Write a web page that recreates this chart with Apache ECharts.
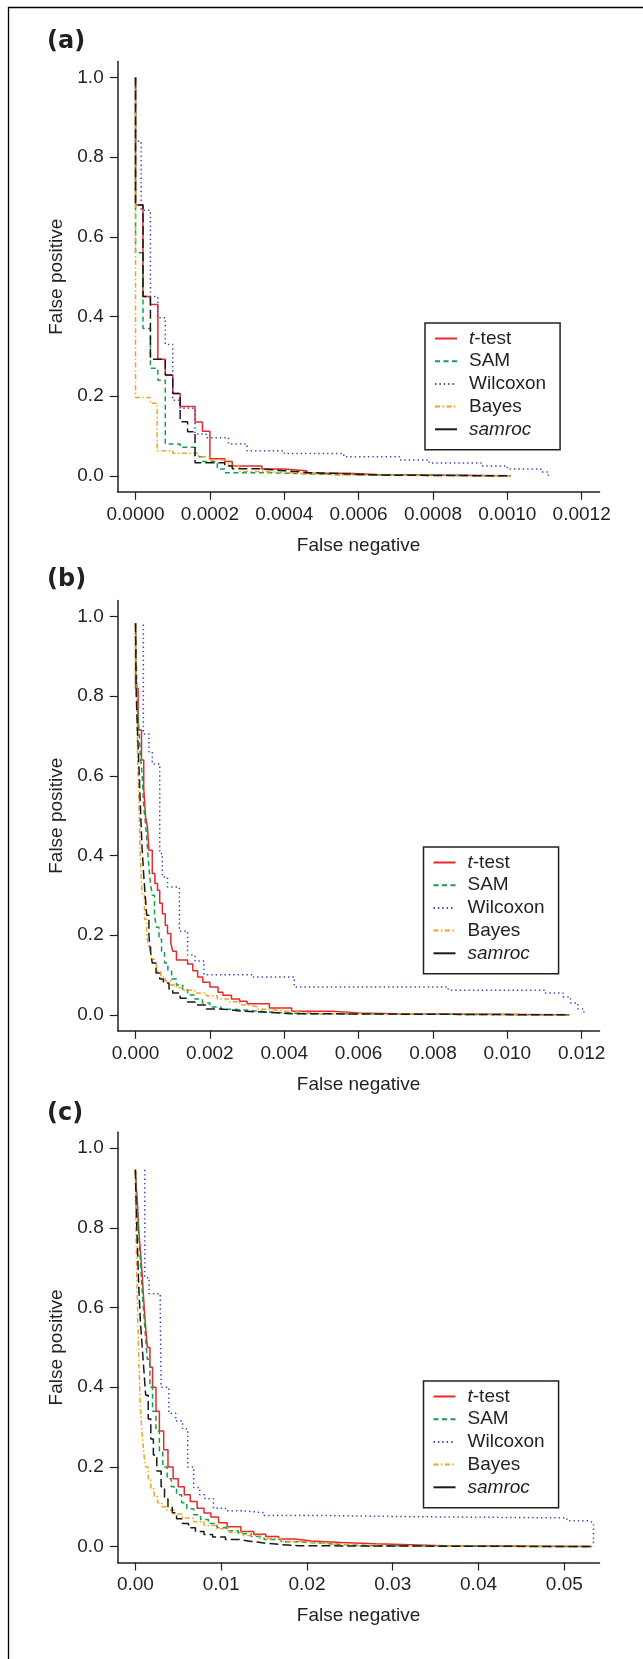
<!DOCTYPE html>
<html>
<head>
<meta charset="utf-8">
<script src="https://cdn.jsdelivr.net/npm/echarts@6/dist/echarts.min.js"></script>
<style>
  html, body { margin: 0; padding: 0; background: #fff; }
  #chart { width: 643px; height: 1659px; }
</style>
</head>
<body>
<div id="chart"></div>
<script>
// ROC-like curves, each point is [false negative where the step drops, new false positive]
const names = ['t-test', 'SAM', 'Wilcoxon', 'Bayes', 'samroc'];
const yTicks = [0, 0.2, 0.4, 0.6, 0.8, 1.0];
const xTicksA = [0, 0.0002, 0.0004, 0.0006, 0.0008, 0.0010, 0.0012];
const xTicksB = [0, 0.002, 0.004, 0.006, 0.008, 0.010, 0.012];
const xTicksC = [0, 0.01, 0.02, 0.03, 0.04, 0.05];

// panel (a)
const ttestA = [[0,1],[0,0.68],[0.00002,0.45],[0.00004,0.43],[0.00006,0.293],[0.00008,0.253],[0.0001,0.207],[0.00012,0.174],[0.00016,0.135],[0.00018,0.112],[0.0002,0.043],[0.00024,0.036],[0.00026,0.025],[0.00034,0.017],[0.0004,0.0126],[0.00046,0.0063],[0.00057,0.0035],[0.00065,0],[0.00101,0]];
const samA = [[0,1],[0,0.56],[0.00002,0.37],[0.00004,0.27],[0.00006,0.24],[0.00008,0.08],[0.00012,0.072],[0.00016,0.048],[0.00018,0.036],[0.00022,0.017],[0.00024,0.008],[0.00036,0.004],[0.0005,0],[0.00101,0]];
const wilcoxonA = [[0,1],[0,0.84],[0.000015,0.667],[0.00004,0.45],[0.00006,0.397],[0.00008,0.33],[0.0001,0.19],[0.00012,0.17],[0.00016,0.105],[0.00019,0.096],[0.00025,0.08],[0.0003,0.063],[0.0004,0.056],[0.00056,0.048],[0.00071,0.04],[0.00079,0.032],[0.00093,0.025],[0.001,0.017],[0.00109,0.01],[0.00111,0]];
const bayesA = [[0,1],[0,0.197],[0.00004,0.182],[0.000058,0.063],[0.0001,0.057],[0.00017,0.048],[0.0002,0.04],[0.00025,0.025],[0.00028,0.011],[0.00034,0.006],[0.00045,0.002],[0.00055,0],[0.00101,0]];
const samrocA = [[0,1],[0,0.68],[0.00002,0.45],[0.00004,0.293],[0.00008,0.253],[0.0001,0.207],[0.00012,0.136],[0.00014,0.111],[0.00016,0.033],[0.00024,0.025],[0.00026,0.018],[0.00033,0.013],[0.0004,0.008],[0.00047,0.005],[0.00057,0.002],[0.00065,0],[0.00101,0]];

// panel (b)
const ttestB = [[0,0.983],[0,0.82],[0.00007,0.715],[0.00016,0.64],[0.00022,0.57],[0.00027,0.497],[0.00032,0.472],[0.00036,0.413],[0.00045,0.355],[0.00052,0.33],[0.00059,0.313],[0.00065,0.28],[0.00072,0.254],[0.0008,0.225],[0.00086,0.204],[0.00095,0.18],[0.001,0.16],[0.0011,0.138],[0.0014,0.128],[0.00154,0.111],[0.00167,0.095],[0.00181,0.082],[0.002,0.07],[0.00222,0.057],[0.00235,0.049],[0.00258,0.04],[0.0028,0.034],[0.003,0.028],[0.0036,0.017],[0.0042,0.009],[0.0053,0.005],[0.006,0.003],[0.007,0],[0.01167,0]];
const samB = [[0,0.983],[0.00004,0.8],[0.00009,0.72],[0.00013,0.65],[0.00018,0.6],[0.00022,0.52],[0.00027,0.48],[0.00032,0.42],[0.00036,0.37],[0.0004,0.33],[0.00045,0.3],[0.00051,0.25],[0.00056,0.22],[0.00063,0.19],[0.0007,0.16],[0.00078,0.13],[0.00087,0.11],[0.00097,0.09],[0.0011,0.075],[0.00127,0.063],[0.0014,0.05],[0.0016,0.04],[0.0018,0.03],[0.002,0.02],[0.0023,0.014],[0.0027,0.01],[0.0032,0.006],[0.0038,0.003],[0.0045,0],[0.01167,0]];
const wilcoxonB = [[0.00021,0.98],[0.00021,0.705],[0.00036,0.66],[0.00045,0.63],[0.00065,0.405],[0.00072,0.346],[0.00086,0.321],[0.00118,0.21],[0.0014,0.15],[0.0016,0.135],[0.00184,0.101],[0.00317,0.095],[0.00427,0.07],[0.00841,0.062],[0.011,0.055],[0.0115,0.045],[0.0117,0.03],[0.0119,0.015],[0.01206,0]];
const bayesB = [[0,0.983],[0.00002,0.85],[0.00004,0.72],[0.00007,0.6],[0.0001,0.5],[0.00012,0.42],[0.00015,0.35],[0.00018,0.3],[0.00024,0.24],[0.0003,0.2],[0.00035,0.17],[0.00042,0.14],[0.0005,0.125],[0.00057,0.11],[0.00068,0.095],[0.0008,0.085],[0.00095,0.075],[0.0011,0.068],[0.0013,0.062],[0.0016,0.055],[0.0019,0.048],[0.0022,0.04],[0.0025,0.033],[0.0028,0.025],[0.003,0.02],[0.0033,0.014],[0.0036,0.01],[0.004,0.006],[0.0045,0.003],[0.005,0],[0.01167,0]];
const samrocB = [[0,0.983],[0.00002,0.8],[0.00005,0.72],[0.0001,0.6],[0.00014,0.5],[0.00017,0.43],[0.00022,0.35],[0.00026,0.3],[0.0003,0.25],[0.00036,0.2],[0.0004,0.16],[0.00045,0.13],[0.00055,0.105],[0.00065,0.09],[0.00075,0.08],[0.0009,0.065],[0.001,0.055],[0.0012,0.042],[0.0014,0.032],[0.0016,0.025],[0.0019,0.015],[0.0023,0.01],[0.0028,0.006],[0.0036,0.003],[0.0042,0],[0.01167,0]];

// panel (c)
const ttestC = [[0,0.946],[0.0001,0.9],[0.0002,0.88],[0.0004,0.79],[0.0006,0.74],[0.0008,0.68],[0.001,0.61],[0.0012,0.55],[0.0014,0.5],[0.0017,0.45],[0.002,0.4],[0.0024,0.34],[0.0028,0.29],[0.0033,0.243],[0.0038,0.2],[0.0044,0.17],[0.005,0.15],[0.0057,0.13],[0.0064,0.113],[0.0072,0.096],[0.008,0.084],[0.0088,0.074],[0.0097,0.06],[0.0107,0.05],[0.0123,0.038],[0.0138,0.031],[0.0152,0.025],[0.0167,0.019],[0.0186,0.014],[0.0205,0.01],[0.024,0.007],[0.028,0.004],[0.033,0.002],[0.036,0],[0.0532,0]];
const samC = [[0,0.946],[0.0001,0.9],[0.0002,0.86],[0.0004,0.78],[0.0006,0.71],[0.0008,0.64],[0.001,0.58],[0.0012,0.52],[0.0014,0.47],[0.0017,0.4],[0.002,0.34],[0.0024,0.29],[0.0028,0.24],[0.0032,0.2],[0.0037,0.17],[0.0042,0.15],[0.0048,0.13],[0.0054,0.11],[0.006,0.095],[0.0068,0.08],[0.0076,0.068],[0.0085,0.058],[0.0095,0.048],[0.0106,0.04],[0.012,0.032],[0.0135,0.025],[0.015,0.018],[0.017,0.012],[0.019,0.008],[0.022,0.004],[0.025,0.002],[0.028,0],[0.0532,0]];
const wilcoxonC = [[0.0011,0.946],[0.0011,0.675],[0.0016,0.635],[0.0029,0.6],[0.003,0.4],[0.0039,0.335],[0.0047,0.315],[0.0055,0.295],[0.0061,0.2],[0.0068,0.148],[0.0075,0.13],[0.0081,0.12],[0.0091,0.096],[0.0105,0.09],[0.0125,0.085],[0.015,0.078],[0.022,0.075],[0.032,0.072],[0.0503,0.065],[0.0528,0.06],[0.0534,0]];
const bayesC = [[0,0.946],[0.00005,0.85],[0.0001,0.75],[0.0002,0.65],[0.0003,0.55],[0.0004,0.47],[0.0005,0.4],[0.0006,0.34],[0.0008,0.28],[0.001,0.23],[0.0012,0.2],[0.0015,0.17],[0.0018,0.145],[0.0022,0.125],[0.0026,0.11],[0.0031,0.1],[0.0036,0.092],[0.0045,0.082],[0.0055,0.072],[0.0068,0.062],[0.008,0.053],[0.0095,0.045],[0.011,0.036],[0.0125,0.028],[0.0145,0.02],[0.017,0.013],[0.019,0.008],[0.022,0.004],[0.025,0.001],[0.027,0],[0.0532,0]];
const samrocC = [[0,0.946],[0.0001,0.85],[0.0002,0.78],[0.0004,0.65],[0.0006,0.56],[0.0008,0.5],[0.001,0.44],[0.0012,0.38],[0.0015,0.32],[0.0018,0.27],[0.0021,0.23],[0.0025,0.19],[0.003,0.15],[0.0034,0.12],[0.0038,0.1],[0.0043,0.085],[0.0048,0.07],[0.0055,0.058],[0.0062,0.047],[0.007,0.038],[0.008,0.03],[0.009,0.024],[0.0105,0.018],[0.012,0.013],[0.0135,0.009],[0.015,0.005],[0.017,0.002],[0.019,0],[0.0532,0]];

const FONT = '"Liberation Sans", Arial, Helvetica, sans-serif';
const INK = '#231f20';

const lineStyles = {
    't-test': { color: '#e8282b', type: 'solid' },
    'SAM': { color: '#10a24a', type: [5, 3.5] },
    'Wilcoxon': { color: '#3d41c2', type: [1.4, 3] },
    'Bayes': { color: '#f4a21f', type: [5, 2.5, 1.4, 2.5] },
    'samroc': { color: '#1a1a1a', type: [9, 4] }
};

const panels = [
    { label: '(a)', labelTop: 30, top: 61.6, xMin: -0.000048, xMax: 0.001248, ticks: xTicksA, digits: 4,
      legendTop: 323, legendLeft: 425, data: [ttestA, samA, wilcoxonA, bayesA, samrocA] },
    { label: '(b)', labelTop: 568, top: 600.6, xMin: -0.00048, xMax: 0.01248, ticks: xTicksB, digits: 3,
      legendTop: 847, legendLeft: 423.5, data: [ttestB, samB, wilcoxonB, bayesB, samrocB] },
    { label: '(c)', labelTop: 1102, top: 1132.3, xMin: -0.00206, xMax: 0.0541, ticks: xTicksC, digits: 2,
      legendTop: 1381, legendLeft: 423.5, data: [ttestC, samC, wilcoxonC, bayesC, samrocC] }
];

let grid = [], xAxis = [], yAxis = [], series = [], legend = [], title = [];

panels.forEach(function (p, i) {
    grid.push({ left: 117.7, top: p.top, width: 481.8, height: 430.2 });
    title.push({
        text: p.label, left: 47, top: p.labelTop, padding: 0,
        textStyle: { fontFamily: '"DejaVu Sans", sans-serif', fontWeight: 'bold', fontSize: 24, color: INK }
    });
    xAxis.push({
        type: 'value', gridIndex: i, min: p.xMin, max: p.xMax,
        name: 'False negative', nameLocation: 'middle', nameGap: 44,
        nameTextStyle: { fontFamily: FONT, fontSize: 19, color: INK },
        splitLine: { show: false },
        axisLine: { onZero: false, lineStyle: { color: INK, width: 1.5 } },
        axisTick: { customValues: p.ticks, length: 8, lineStyle: { color: INK, width: 1.2 } },
        axisLabel: {
            customValues: p.ticks, margin: 13, fontFamily: FONT, fontSize: 19, color: INK,
            formatter: (function (d) { return function (v) { return v.toFixed(d); }; })(p.digits)
        }
    });
    yAxis.push({
        type: 'value', gridIndex: i, min: -0.04, max: 1.04,
        name: 'False positive', nameLocation: 'middle', nameGap: 50,
        nameTextStyle: { fontFamily: FONT, fontSize: 19, color: INK },
        splitLine: { show: false },
        axisLine: { show: true, onZero: false, lineStyle: { color: INK, width: 1.5 } },
        axisTick: { show: true, customValues: yTicks, length: 8, lineStyle: { color: INK, width: 1.2 } },
        axisLabel: {
            customValues: yTicks, margin: 14, fontFamily: FONT, fontSize: 19, color: INK,
            formatter: function (v) { return v.toFixed(1); }
        }
    });
    names.forEach(function (n, k) {
        const ls = lineStyles[n];
        series.push({
            name: n, type: 'line', xAxisIndex: i, yAxisIndex: i,
            data: p.data[k], step: 'end', symbol: 'none', showSymbol: false,
            color: ls.color,
            lineStyle: { color: ls.color, type: ls.type, width: 1.5 },
            animation: false, silent: true
        });
    });
    legend.push({
        orient: 'vertical', left: p.legendLeft, top: p.legendTop,
        padding: [6, 14, 11, 9], itemGap: 3.7, itemWidth: 22, itemHeight: 14,
        backgroundColor: '#fff', borderColor: INK, borderWidth: 1.5,
        selectedMode: false,
        itemStyle: { opacity: 0 },
        data: names.map(function (n) {
            return n === 'samroc' ? { name: n, lineStyle: { type: 'solid' } } : { name: n };
        }),
        formatter: function (name) {
            if (name === 't-test') return '{i|t}{n|-test}';
            if (name === 'samroc') return '{i|samroc}';
            return '{n|' + name + '}';
        },
        textStyle: {
            padding: [0, 0, 0, 7],
            rich: {
                i: { fontFamily: FONT, fontStyle: 'italic', fontSize: 19, lineHeight: 20.5, color: INK },
                n: { fontFamily: FONT, fontSize: 19, lineHeight: 20.5, color: INK }
            }
        }
    });
});

let chart = echarts.init(document.getElementById('chart'), null, { renderer: 'canvas' });
chart.setOption({
    backgroundColor: '#fff',
    animation: false,
    title: title,
    grid: grid,
    xAxis: xAxis,
    yAxis: yAxis,
    legend: legend,
    series: series,
    graphic: [
        { type: 'line', shape: { x1: 8, y1: 7.5, x2: 643, y2: 7.5 }, style: { stroke: '#000', lineWidth: 1.3 } },
        { type: 'line', shape: { x1: 8.5, y1: 7, x2: 8.5, y2: 1659 }, style: { stroke: '#000', lineWidth: 1.3 } }
    ]
});
</script>
</body>
</html>
